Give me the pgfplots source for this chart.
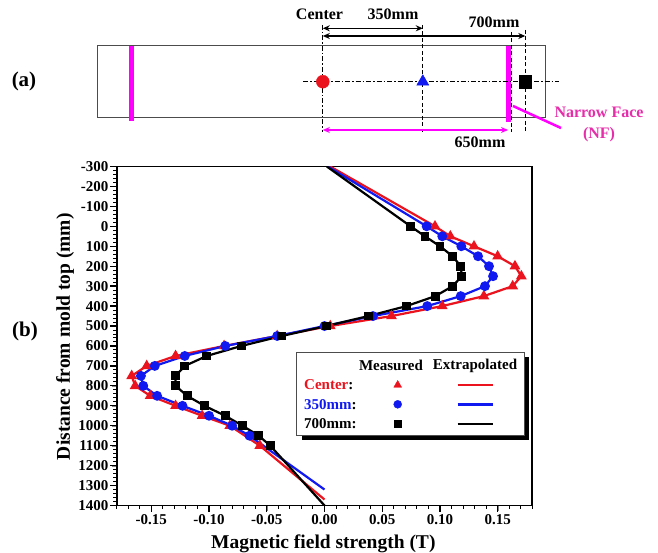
\documentclass[border=0pt]{standalone}
\usepackage{pgfplots}
\pgfplotsset{compat=1.18}
\usepackage{fontspec}
\setmainfont{Liberation Serif}
\usetikzlibrary{arrows.meta}
\definecolor{mred}{RGB}{235,20,30}
\definecolor{mblue}{RGB}{15,25,240}
\definecolor{mag}{RGB}{255,0,255}
\definecolor{nfpink}{RGB}{230,45,170}
\newcommand{\fs}[1]{\fontsize{#1}{#1}\selectfont\bfseries}
\begin{document}
\begin{tikzpicture}
% ---------------- overlay in pixel units ----------------
\begin{axis}[
  scale only axis, width=658pt, height=553pt,
  at={(0pt,0pt)}, anchor=south west,
  xmin=0, xmax=658, ymin=0, ymax=553, y dir=reverse,
  axis lines=none, xtick=\empty, ytick=\empty, clip=false,
]
% schematic (a)
\draw[gray!60!black, line width=1pt] (97,46) rectangle (545,118);
\draw[mag, line width=5pt] (131.5,46) -- (131.5,121);
\draw[mag, line width=5pt] (508,46) -- (508,122);
\draw[black, line width=0.7pt, dash pattern=on 5pt off 2pt on 1.5pt off 2pt] (322.8,25) -- (322.8,132);
\draw[black, line width=0.7pt, dash pattern=on 4pt off 2.5pt] (422.8,25) -- (422.8,132);
\draw[black, line width=0.7pt, dash pattern=on 4pt off 2.5pt] (525.3,30) -- (525.3,132);
\draw[black, line width=0.7pt, dash pattern=on 4pt off 2.5pt] (511,32) -- (511,132);
\draw[black, line width=0.7pt, dash pattern=on 5pt off 2pt on 1.5pt off 2pt] (303,81.7) -- (559,81.7);
\draw[{Stealth[length=7pt,width=6pt]}-{Stealth[length=7pt,width=6pt]}, line width=1.3pt] (322.8,28.3) -- (422.8,28.3);
\draw[{Stealth[length=7pt,width=6pt]}-{Stealth[length=7pt,width=6pt]}, line width=1.3pt] (322.8,36) -- (525.3,36);
\draw[mag, {Stealth[length=7pt,width=6pt]}-{Stealth[length=7pt,width=6pt]}, line width=1.3pt] (322.8,130) -- (508,130);
\draw[mag, line width=2.5pt] (561,128) -- (513,106);
\addplot[only marks, mred, mark=*, mark size=6.5pt] coordinates {(322.8,81.7)};
\addplot[only marks, mblue, mark=triangle*, mark size=7pt] coordinates {(422.8,81.7)};
\addplot[only marks, black, mark=square*, mark size=6.3pt] coordinates {(525.3,81.7)};
\node[font=\fs{16}] at (319.5,14) {Center};
\node[font=\fs{16}] at (393,14) {350mm};
\node[font=\fs{16}] at (494,22.7) {700mm};
\node[font=\fs{16}] at (480,142.7) {650mm};
\node[font=\fs{16}, text=nfpink] at (599,112.7) {Narrow Face};
\node[font=\fs{16}, text=nfpink] at (599,135) {(NF)};
\node[font=\fs{21}] at (24,81) {(a)};
\node[font=\fs{21}] at (25,331.7) {(b)};
% axis labels
\node[font=\fs{19.5}] at (323.3,543.3) {Magnetic field strength (T)};
\node[font=\fs{19.5}, rotate=90] at (65,336.7) {Distance from mold top (mm)};
% legend
\fill[black] (301.7,357.3) rectangle (529.3,439.7);
\draw[gray!60!black, fill=white, line width=1pt] (296.7,352.3) rectangle (524.3,435.7);
\node[font=\fs{15}] at (391,365.7) {Measured};
\node[font=\fs{15}] at (475,365.7) {Extrapolated};
\node[font=\fs{15}, anchor=west, inner sep=0pt] at (304,385) {\textcolor{mred}{Center}:};
\node[font=\fs{15}, anchor=west, inner sep=0pt] at (304,404.3) {\textcolor{mblue}{350mm}:};
\node[font=\fs{15}, anchor=west, inner sep=0pt] at (304,424) {700mm:};
\addplot[only marks, mred, mark=triangle*, mark size=4.5pt] coordinates {(397.7,385)};
\addplot[only marks, mblue, mark=*, mark size=4pt] coordinates {(397.7,404.3)};
\addplot[only marks, black, mark=square*, mark size=3.5pt] coordinates {(397.7,424)};
\draw[mred, line width=2.4pt] (457.7,385) -- (493.3,385);
\draw[mblue, line width=2.4pt] (457.7,404.3) -- (493.3,404.3);
\draw[black, line width=2.4pt] (457.7,424) -- (493.3,424);
\end{axis}
% ---------------- main plot (b) ----------------
\begin{axis}[
  scale only axis, width=415.6pt, height=339pt,
  at={(116.7pt,47.5pt)}, anchor=south west,
  xmin=-0.18, xmax=0.18, ymin=-300, ymax=1400, y dir=reverse,
  xtick={-0.15,-0.1,-0.05,0,0.05,0.1,0.15},
  ytick={-300,-200,...,1400},
  tick pos=left, tick align=outside,
  major tick length=5pt,
  every axis/.append style={line width=1.8pt},
  scaled ticks=false,
  /pgf/number format/assume math mode=true,
  x tick label style={/pgf/number format/.cd, fixed, fixed zerofill, precision=2, /tikz/.cd},
  y tick label style={/pgf/number format/.cd, 1000 sep={}, /tikz/.cd, xshift=1pt},
  tick label style={font=\fs{15}},
]
% Center (red)
\addplot[mred, line width=2.2pt, no marks] coordinates {
(0.005,-300) (0.0957,0) (0.109,50) (0.1295,100) (0.150,150) (0.165,200) (0.1705,250)
(0.163,300) (0.138,350) (0.102,400) (0.058,450) (0.005,500) (-0.041,550) (-0.087,600)
(-0.129,650) (-0.154,700) (-0.167,750) (-0.164,800) (-0.151,850) (-0.129,900)
(-0.106,950) (-0.082,1000) (-0.056,1100) (0,1370)};
\addplot[only marks, mred, mark=triangle*, mark size=4.5pt] coordinates {
(0.0957,0) (0.109,50) (0.1295,100) (0.150,150) (0.165,200) (0.1705,250)
(0.163,300) (0.138,350) (0.102,400) (0.058,450) (0.005,500) (-0.041,550) (-0.087,600)
(-0.129,650) (-0.154,700) (-0.167,750) (-0.164,800) (-0.151,850) (-0.129,900)
(-0.106,950) (-0.082,1000) (-0.056,1100)};
% 350mm (blue)
\addplot[mblue, line width=2.2pt, no marks] coordinates {
(0.003,-300) (0.0885,0) (0.102,50) (0.1185,100) (0.133,150) (0.1425,200) (0.146,250)
(0.139,300) (0.118,350) (0.089,400) (0.042,450) (0.000,500) (-0.041,550) (-0.086,600)
(-0.121,650) (-0.147,700) (-0.159,750) (-0.157,800) (-0.145,850) (-0.123,900)
(-0.100,950) (-0.080,1000) (-0.065,1050) (0,1320)};
\addplot[only marks, mblue, mark=*, mark size=4pt] coordinates {
(0.0885,0) (0.102,50) (0.1185,100) (0.133,150) (0.1425,200) (0.146,250)
(0.139,300) (0.118,350) (0.089,400) (0.042,450) (0.000,500) (-0.041,550) (-0.086,600)
(-0.121,650) (-0.147,700) (-0.159,750) (-0.157,800) (-0.145,850) (-0.123,900)
(-0.100,950) (-0.080,1000) (-0.065,1050)};
% 700mm (black)
\addplot[black, line width=2.2pt, no marks] coordinates {
(0.002,-300) (0.0746,0) (0.087,50) (0.100,100) (0.111,150) (0.118,200) (0.119,250)
(0.111,300) (0.096,350) (0.071,400) (0.038,450) (0.0015,500) (-0.037,550) (-0.072,600)
(-0.102,650) (-0.121,700) (-0.129,750) (-0.129,800) (-0.119,850) (-0.104,900)
(-0.086,950) (-0.071,1000) (-0.057,1050) (-0.047,1100) (0,1400)};
\addplot[only marks, black, mark=square*, mark size=3.5pt] coordinates {
(0.0746,0) (0.087,50) (0.100,100) (0.111,150) (0.118,200) (0.119,250)
(0.111,300) (0.096,350) (0.071,400) (0.038,450) (0.0015,500) (-0.037,550) (-0.072,600)
(-0.102,650) (-0.121,700) (-0.129,750) (-0.129,800) (-0.119,850) (-0.104,900)
(-0.086,950) (-0.071,1000) (-0.057,1050) (-0.047,1100)};
\end{axis}
% tick marks drawn outside the axis frame (minor and major)
\foreach \d in {-300,-280,...,1400}
  \draw[black, line width=1pt] (116.7pt,{(47.5+(1400-\d)/1700*339)*1pt}) -- ++(-4pt,0pt);
\foreach \d in {-300,-200,...,1400}
  \draw[black, line width=1.3pt] (116.7pt,{(47.5+(1400-\d)/1700*339)*1pt}) -- ++(-6.5pt,0pt);
\foreach \i in {-18,...,18}
  \draw[black, line width=1pt] ({(116.7+(\i/100+0.18)/0.36*415.6)*1pt},47.5pt) -- ++(0pt,-4pt);
\foreach \i in {-15,-10,...,15}
  \draw[black, line width=1.3pt] ({(116.7+(\i/100+0.18)/0.36*415.6)*1pt},47.5pt) -- ++(0pt,-6.5pt);
\pgfresetboundingbox
\path[use as bounding box] (0,0) rectangle (658pt,553pt);
\end{tikzpicture}
\end{document}
